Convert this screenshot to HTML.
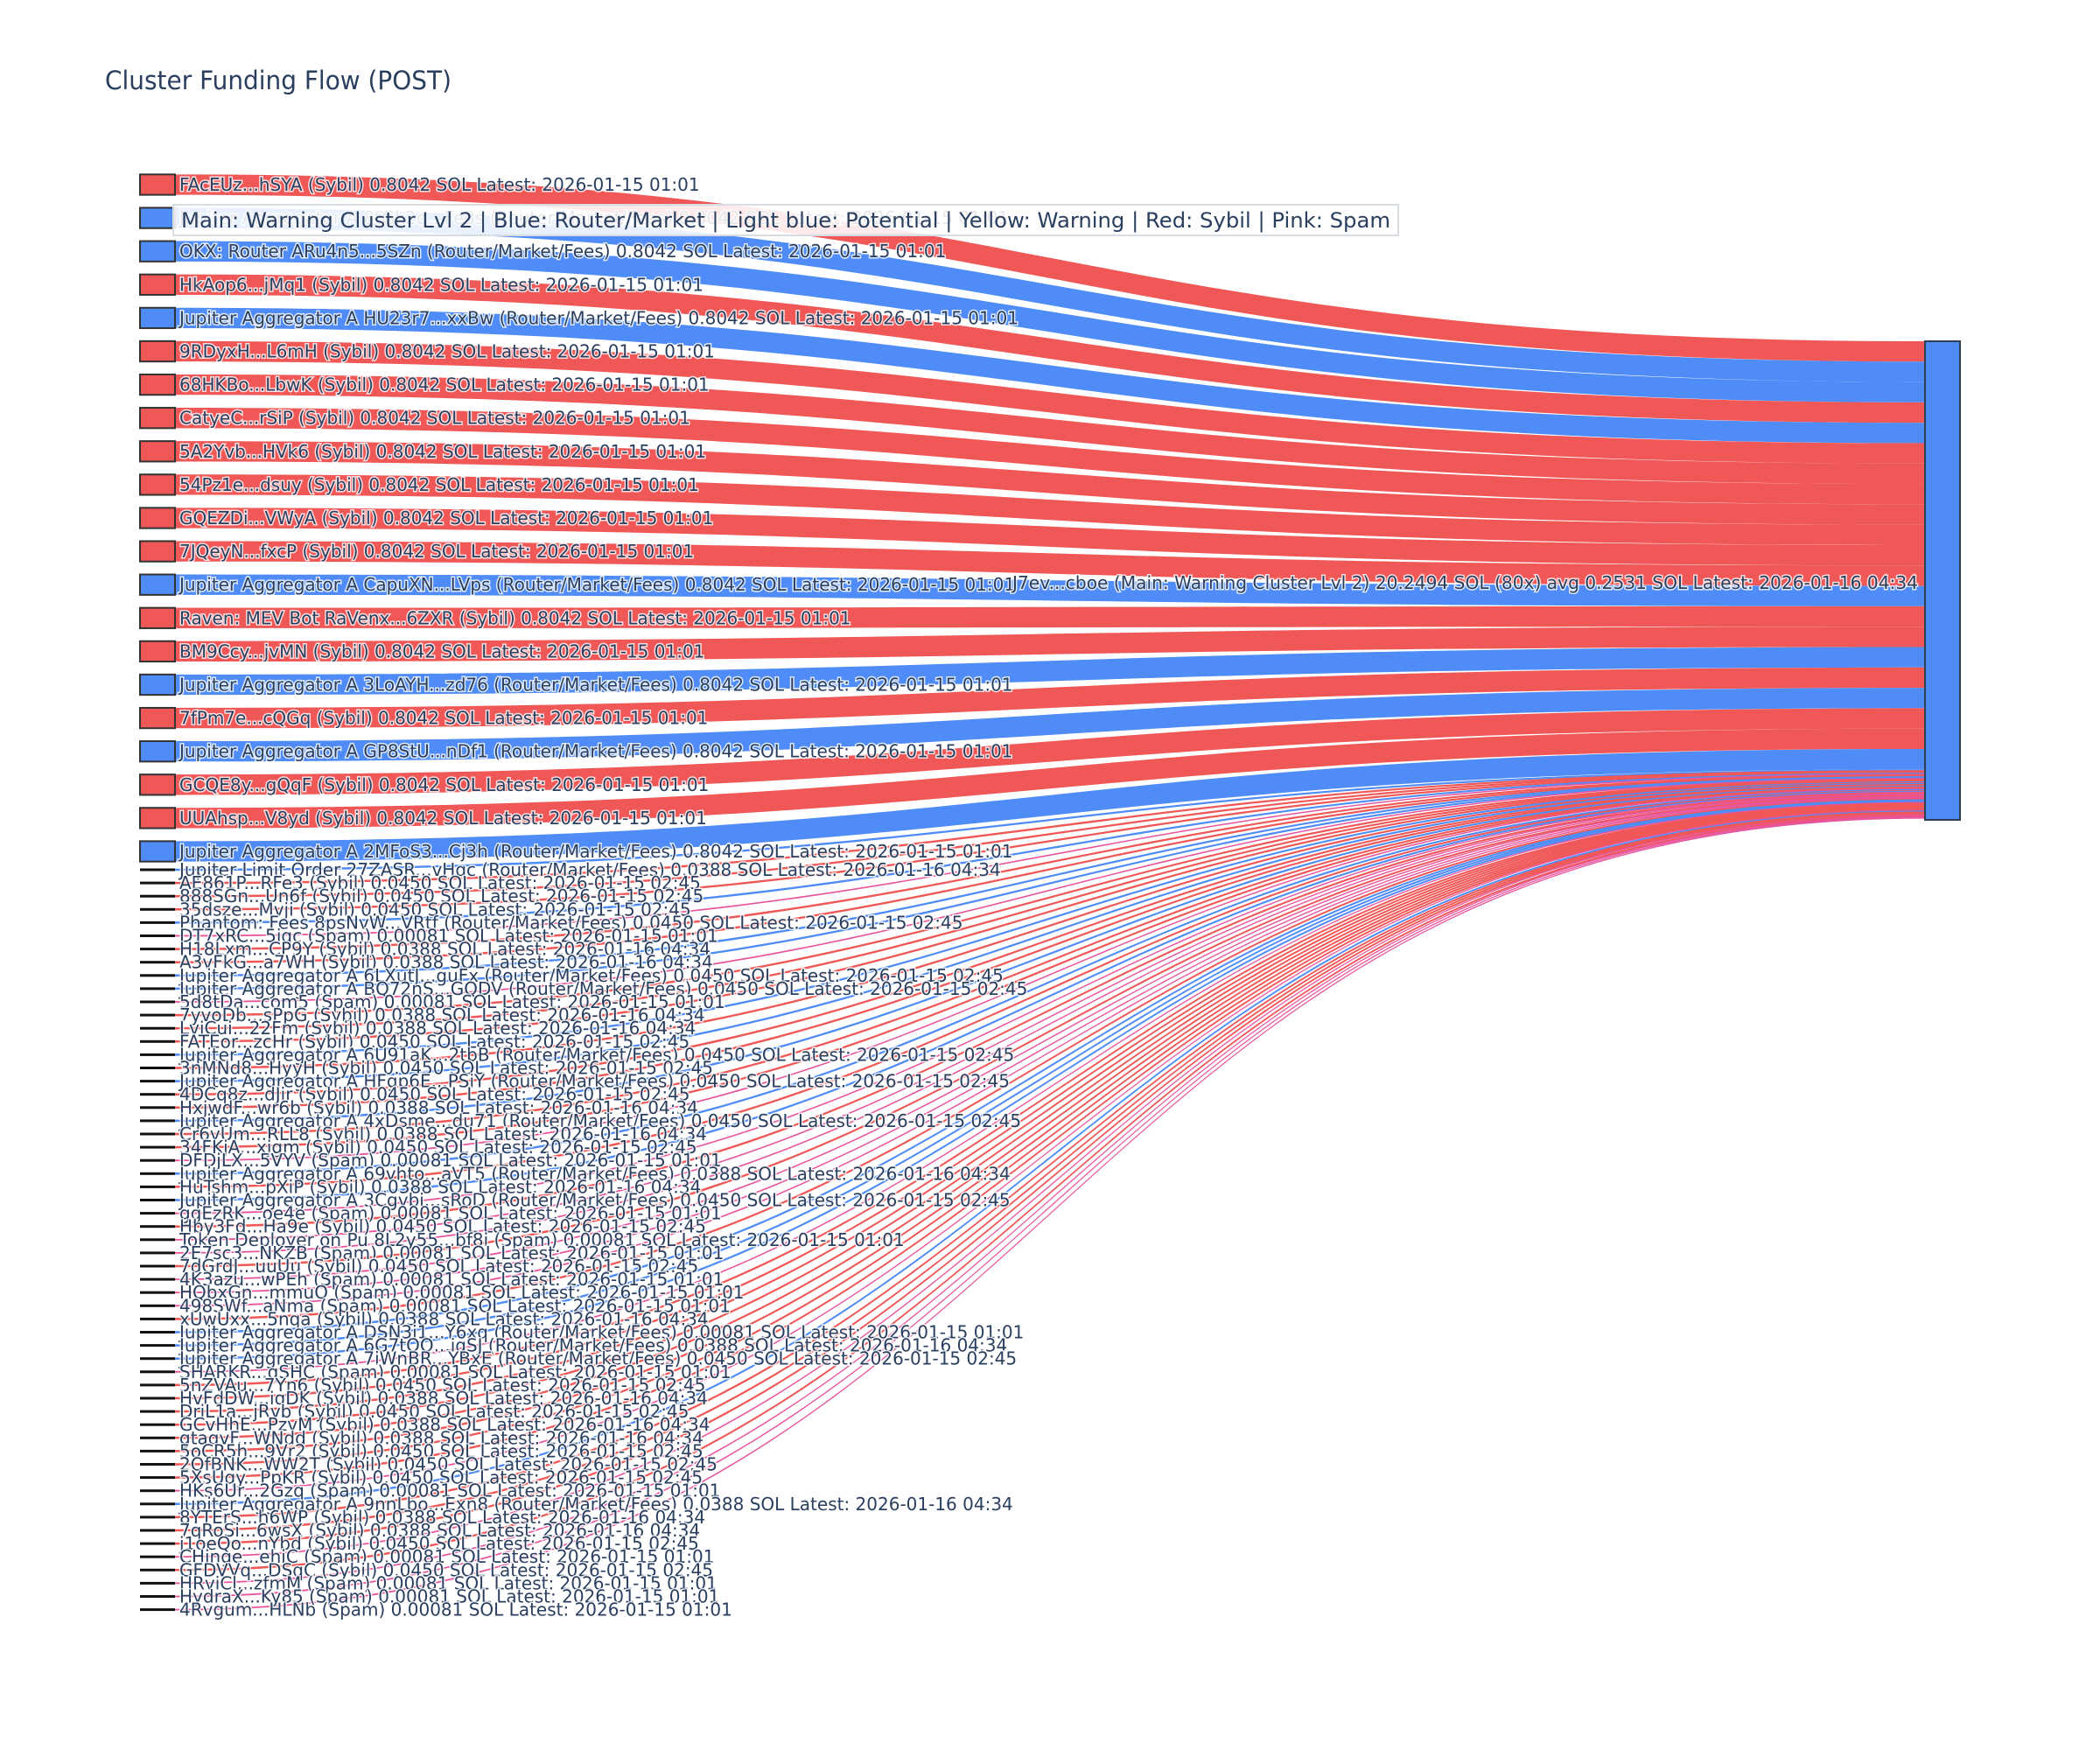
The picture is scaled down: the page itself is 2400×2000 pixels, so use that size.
<!DOCTYPE html>
<html><head><meta charset="utf-8">
<style>
html,body{margin:0;padding:0;background:#fff;}
svg{display:block;}
text{font-family:"DejaVu Sans","Liberation Sans",sans-serif;fill:#2a3f5f;}
.lb{font-size:20px;paint-order:stroke;stroke:#fff;stroke-width:3px;stroke-opacity:0.8;}
</style></head>
<body>
<svg id="s" width="2400" height="2000" viewBox="0 0 2400 2000" xmlns="http://www.w3.org/2000/svg">
<rect width="2400" height="2000" fill="#fff"/>
<g id="links"></g>
<g id="nodes"></g>
<rect x="2200" y="390" width="40" height="547" fill="#4f8cf7" stroke="#2d3e55" stroke-width="2"/>
<g id="labels">
<text class="lb">FAcEUz...hSYA (Sybil) 0.8042 SOL Latest: 2026-01-15 01:01</text>
<text class="lb">Jupiter Aggregator A 8tGk2q...Fe3s (Router/Market/Fees) 0.8042 SOL Latest: 2026-01-15 01:01</text>
<text class="lb">OKX: Router ARu4n5...5SZn (Router/Market/Fees) 0.8042 SOL Latest: 2026-01-15 01:01</text>
<text class="lb">HkAop6...jMq1 (Sybil) 0.8042 SOL Latest: 2026-01-15 01:01</text>
<text class="lb">Jupiter Aggregator A HU23r7...xxBw (Router/Market/Fees) 0.8042 SOL Latest: 2026-01-15 01:01</text>
<text class="lb">9RDyxH...L6mH (Sybil) 0.8042 SOL Latest: 2026-01-15 01:01</text>
<text class="lb">68HKBo...LbwK (Sybil) 0.8042 SOL Latest: 2026-01-15 01:01</text>
<text class="lb">CatyeC...rSiP (Sybil) 0.8042 SOL Latest: 2026-01-15 01:01</text>
<text class="lb">5A2Yvb...HVk6 (Sybil) 0.8042 SOL Latest: 2026-01-15 01:01</text>
<text class="lb">54Pz1e...dsuy (Sybil) 0.8042 SOL Latest: 2026-01-15 01:01</text>
<text class="lb">GQEZDi...VWyA (Sybil) 0.8042 SOL Latest: 2026-01-15 01:01</text>
<text class="lb">7JQeyN...fxcP (Sybil) 0.8042 SOL Latest: 2026-01-15 01:01</text>
<text class="lb">Jupiter Aggregator A CapuXN...LVps (Router/Market/Fees) 0.8042 SOL Latest: 2026-01-15 01:01</text>
<text class="lb">Raven: MEV Bot RaVenx...6ZXR (Sybil) 0.8042 SOL Latest: 2026-01-15 01:01</text>
<text class="lb">BM9Ccy...jvMN (Sybil) 0.8042 SOL Latest: 2026-01-15 01:01</text>
<text class="lb">Jupiter Aggregator A 3LoAYH...zd76 (Router/Market/Fees) 0.8042 SOL Latest: 2026-01-15 01:01</text>
<text class="lb">7fPm7e...cQGq (Sybil) 0.8042 SOL Latest: 2026-01-15 01:01</text>
<text class="lb">Jupiter Aggregator A GP8StU...nDf1 (Router/Market/Fees) 0.8042 SOL Latest: 2026-01-15 01:01</text>
<text class="lb">GCQE8y...gQqF (Sybil) 0.8042 SOL Latest: 2026-01-15 01:01</text>
<text class="lb">UUAhsp...V8yd (Sybil) 0.8042 SOL Latest: 2026-01-15 01:01</text>
<text class="lb">Jupiter Aggregator A 2MFoS3...Cj3h (Router/Market/Fees) 0.8042 SOL Latest: 2026-01-15 01:01</text>
<text class="lb">Jupiter Limit Order  27ZASR...vHqc (Router/Market/Fees) 0.0388 SOL Latest: 2026-01-16 04:34</text>
<text class="lb">AE861P...RFe3 (Sybil) 0.0450 SOL Latest: 2026-01-15 02:45</text>
<text class="lb">888SGn...Un6f (Sybil) 0.0450 SOL Latest: 2026-01-15 02:45</text>
<text class="lb">35dsze...Mvji (Sybil) 0.0450 SOL Latest: 2026-01-15 02:45</text>
<text class="lb">Phantom: Fees 8psNvW...VRtf (Router/Market/Fees) 0.0450 SOL Latest: 2026-01-15 02:45</text>
<text class="lb">DT7xRC...5iqc (Spam) 0.00081 SOL Latest: 2026-01-15 01:01</text>
<text class="lb">H18Lxm...CP9Y (Sybil) 0.0388 SOL Latest: 2026-01-16 04:34</text>
<text class="lb">A3vFkG...a7WH (Sybil) 0.0388 SOL Latest: 2026-01-16 04:34</text>
<text class="lb">Jupiter Aggregator A 6LXutJ...guFx (Router/Market/Fees) 0.0450 SOL Latest: 2026-01-15 02:45</text>
<text class="lb">Jupiter Aggregator A BQ72nS...GQDV (Router/Market/Fees) 0.0450 SOL Latest: 2026-01-15 02:45</text>
<text class="lb">5d8tDa...com5 (Spam) 0.00081 SOL Latest: 2026-01-15 01:01</text>
<text class="lb">7yvoDb...sPpG (Sybil) 0.0388 SOL Latest: 2026-01-16 04:34</text>
<text class="lb">LviCui...22Fm (Sybil) 0.0388 SOL Latest: 2026-01-16 04:34</text>
<text class="lb">FATEor...zcHr (Sybil) 0.0450 SOL Latest: 2026-01-15 02:45</text>
<text class="lb">Jupiter Aggregator A 6U91aK...2tbB (Router/Market/Fees) 0.0450 SOL Latest: 2026-01-15 02:45</text>
<text class="lb">3nMNd8...HyyH (Sybil) 0.0450 SOL Latest: 2026-01-15 02:45</text>
<text class="lb">Jupiter Aggregator A HFgp6E...PSiY (Router/Market/Fees) 0.0450 SOL Latest: 2026-01-15 02:45</text>
<text class="lb">4DCq8z...dJir (Sybil) 0.0450 SOL Latest: 2026-01-15 02:45</text>
<text class="lb">HxjwdF...wr6b (Sybil) 0.0388 SOL Latest: 2026-01-16 04:34</text>
<text class="lb">Jupiter Aggregator A 4xDsme...du71 (Router/Market/Fees) 0.0450 SOL Latest: 2026-01-15 02:45</text>
<text class="lb">Cr6vUm...RLL8 (Sybil) 0.0388 SOL Latest: 2026-01-16 04:34</text>
<text class="lb">34FKjA...xjgm (Sybil) 0.0450 SOL Latest: 2026-01-15 02:45</text>
<text class="lb">DFDjLX...5VYV (Spam) 0.00081 SOL Latest: 2026-01-15 01:01</text>
<text class="lb">Jupiter Aggregator A 69vhto...aVT5 (Router/Market/Fees) 0.0388 SOL Latest: 2026-01-16 04:34</text>
<text class="lb">HuTshm...pXiP (Sybil) 0.0388 SOL Latest: 2026-01-16 04:34</text>
<text class="lb">Jupiter Aggregator A 3Cgvbi...sRoD (Router/Market/Fees) 0.0450 SOL Latest: 2026-01-15 02:45</text>
<text class="lb">ggEzRK...oe4e (Spam) 0.00081 SOL Latest: 2026-01-15 01:01</text>
<text class="lb">Hby3Fd...Ha9e (Sybil) 0.0450 SOL Latest: 2026-01-15 02:45</text>
<text class="lb">Token Deployer on Pu 8L2y55...bf8i (Spam) 0.00081 SOL Latest: 2026-01-15 01:01</text>
<text class="lb">2E7sc3...NKZB (Spam) 0.00081 SOL Latest: 2026-01-15 01:01</text>
<text class="lb">7dGrdJ...uuUu (Sybil) 0.0450 SOL Latest: 2026-01-15 02:45</text>
<text class="lb">4K3azu...wPEh (Spam) 0.00081 SOL Latest: 2026-01-15 01:01</text>
<text class="lb">HQbxGn...mmuQ (Spam) 0.00081 SOL Latest: 2026-01-15 01:01</text>
<text class="lb">498SWf...aNma (Spam) 0.00081 SOL Latest: 2026-01-15 01:01</text>
<text class="lb">xUwUxx...5nqa (Sybil) 0.0388 SOL Latest: 2026-01-16 04:34</text>
<text class="lb">Jupiter Aggregator A DSN3i1...Y6xq (Router/Market/Fees) 0.00081 SOL Latest: 2026-01-15 01:01</text>
<text class="lb">Jupiter Aggregator A 6G7tQQ...iqSJ (Router/Market/Fees) 0.0388 SOL Latest: 2026-01-16 04:34</text>
<text class="lb">Jupiter Aggregator A 7iWnBR...YBxE (Router/Market/Fees) 0.0450 SOL Latest: 2026-01-15 02:45</text>
<text class="lb">SHARKR...qSHC (Spam) 0.00081 SOL Latest: 2026-01-15 01:01</text>
<text class="lb">5nZVAu...7Yn6 (Sybil) 0.0450 SOL Latest: 2026-01-15 02:45</text>
<text class="lb">HvFdDW...iqDK (Sybil) 0.0388 SOL Latest: 2026-01-16 04:34</text>
<text class="lb">DriL1a...jRvb (Sybil) 0.0450 SOL Latest: 2026-01-15 02:45</text>
<text class="lb">GCvHhE...PzvM (Sybil) 0.0388 SOL Latest: 2026-01-16 04:34</text>
<text class="lb">gtaqvF...WNdd (Sybil) 0.0388 SOL Latest: 2026-01-16 04:34</text>
<text class="lb">5oCR5h...9Vr2 (Sybil) 0.0450 SOL Latest: 2026-01-15 02:45</text>
<text class="lb">2QfBNK...WW2T (Sybil) 0.0450 SOL Latest: 2026-01-15 02:45</text>
<text class="lb">5XsUqy...PpKR (Sybil) 0.0450 SOL Latest: 2026-01-15 02:45</text>
<text class="lb">HKs6Ur...2Gzq (Spam) 0.00081 SOL Latest: 2026-01-15 01:01</text>
<text class="lb">Jupiter Aggregator A 9nnLbo...Exn8 (Router/Market/Fees) 0.0388 SOL Latest: 2026-01-16 04:34</text>
<text class="lb">8YTErS...h6WP (Sybil) 0.0388 SOL Latest: 2026-01-16 04:34</text>
<text class="lb">7qRoSi...6wsX (Sybil) 0.0388 SOL Latest: 2026-01-16 04:34</text>
<text class="lb">j1oeQo...nYbd (Sybil) 0.0450 SOL Latest: 2026-01-15 02:45</text>
<text class="lb">CHinge...ehiC (Spam) 0.00081 SOL Latest: 2026-01-15 01:01</text>
<text class="lb">GFDVVq...DSqC (Sybil) 0.0450 SOL Latest: 2026-01-15 02:45</text>
<text class="lb">HRviCl...zfmM (Spam) 0.00081 SOL Latest: 2026-01-15 01:01</text>
<text class="lb">HydraX...Ky85 (Spam) 0.00081 SOL Latest: 2026-01-15 01:01</text>
<text class="lb">4Rvgum...HLNb (Spam) 0.00081 SOL Latest: 2026-01-15 01:01</text>
</g>
<text class="lb" x="2192" y="666" dominant-baseline="central" text-anchor="end" textLength="1035" lengthAdjust="spacingAndGlyphs">J7ev...cboe (Main: Warning Cluster Lvl 2) 20.2494 SOL (80x) avg 0.2531 SOL Latest: 2026-01-16 04:34</text>
<rect x="198" y="234" width="1400" height="35" fill="#fff" fill-opacity="0.88" stroke="#d8dce3" stroke-width="2"/>
<text x="207" y="252" dominant-baseline="central" font-size="24" textLength="1382" lengthAdjust="spacingAndGlyphs">Main: Warning Cluster Lvl 2  |  Blue: Router/Market | Light blue: Potential | Yellow: Warning | Red: Sybil | Pink: Spam</text>
<text x="120" y="102" font-size="29" textLength="396" lengthAdjust="spacingAndGlyphs">Cluster Funding Flow (POST)</text>
</svg>
<script>
(function(){
  var NS="http://www.w3.org/2000/svg";
  var labels=document.querySelectorAll('#labels text');
  var L=document.getElementById('links'),N=document.getElementById('nodes');
  var RED="#f05757",BLUE="#4f8cf7",PINK="#e8549c";
  var x0=200,x1=2200,xm=(x0+x1)/2;
  var ry=390;
  function band(yt,yb,ty,tb,col,op){
    var p=document.createElementNS(NS,'path');
    p.setAttribute('d','M'+x0+','+yt+' C'+xm+','+yt+' '+xm+','+ty+' '+x1+','+ty+
      ' L'+x1+','+tb+' C'+xm+','+tb+' '+xm+','+yb+' '+x0+','+yb+' Z');
    p.setAttribute('fill',col);p.setAttribute('fill-opacity',op);
    L.appendChild(p);
  }
  for(var i=0;i<labels.length;i++){
    var t=labels[i].textContent;
    var col=t.indexOf('(Spam)')>=0?PINK:(t.indexOf('Router/Market')>=0?BLUE:RED);
    var cy,h;
    if(i<21){cy=211+i*38.1;h=23.3;}
    else{cy=994+(i-21)*15.1;h=(col==PINK)?0.8:1.5;}
    labels[i].setAttribute('x',205);
    labels[i].setAttribute('y',cy);
    labels[i].setAttribute('dominant-baseline','central');
    if(i<21){
      band(cy-h/2,cy+h/2,ry,ry+h,col,1);
      var r=document.createElementNS(NS,'rect');
      r.setAttribute('x',160);r.setAttribute('y',cy-h/2);r.setAttribute('width',40);r.setAttribute('height',h);
      r.setAttribute('fill',col);r.setAttribute('stroke','#333');r.setAttribute('stroke-width',2);
      N.appendChild(r);
    } else {
      band(cy-h/2-0.5,cy+h/2+0.5,ry,ry+h+0.6,col,1);
      var ln=document.createElementNS(NS,'rect');
      ln.setAttribute('x',160);ln.setAttribute('y',cy-1.5);ln.setAttribute('width',40);ln.setAttribute('height',3);
      ln.setAttribute('fill','#111');
      N.appendChild(ln);
    }
    ry+=(i<21?h:0.98);
  }
})();
</script>
</body></html>
